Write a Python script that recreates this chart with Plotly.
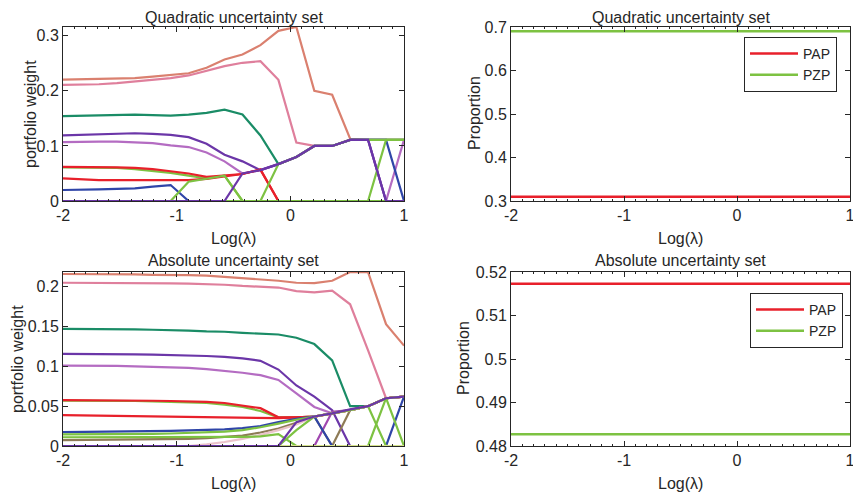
import plotly.graph_objects as go

# ---------------- data ----------------
log_lambda = [-2.0, -1.842, -1.684, -1.526, -1.368, -1.211, -1.053, -0.895, -0.737, -0.579,
              -0.421, -0.263, -0.105, 0.053, 0.211, 0.368, 0.526, 0.684, 0.842, 1.0]

# Quadratic uncertainty set - portfolio weights
q_salmon = [0.2205, 0.221, 0.221, 0.222, 0.223, 0.226, 0.229, 0.232, 0.242, 0.257,
            0.266, 0.283, 0.309, 0.316, 0.200, 0.193, 0.113, 0.111, 0.111, 0.111]
q_pink = [0.211, 0.211, 0.212, 0.214, 0.217, 0.221, 0.223, 0.228, 0.236, 0.245,
          0.251, 0.254, 0.220, 0.106, 0.100, 0.100, 0.111, 0.111, 0.111, 0.111]
q_teal = [0.154, 0.155, 0.156, 0.157, 0.157, 0.156, 0.155, 0.157, 0.160, 0.166,
          0.157, 0.119, 0.067, 0.080, 0.100, 0.100, 0.111, 0.111, 0.111, 0.111]
q_orchid = [0.107, 0.108, 0.108, 0.108, 0.107, 0.105, 0.101, 0.098, 0.088, 0.072,
            0.050, 0.056, 0.067, 0.080, 0.100, 0.100, 0.111, 0.111, 0.0, 0.111]
q_purple1 = [0.119, 0.120, 0.121, 0.122, 0.123, 0.122, 0.120, 0.116, 0.104, 0.084,
             0.072, 0.056, 0.067, 0.080, 0.100, 0.100, 0.111, 0.111, 0.0, 0.0]
q_blue1 = [0.020, 0.020, 0.021, 0.022, 0.023, 0.026, 0.029, 0.0, 0.0, 0.0,
           0.0, 0.0, 0.0, 0.0, 0.0, 0.0, 0.0, 0.0, 0.0, 0.0]
q_blue2 = [None, None, None, None, None, None, None, None, None, None,
           None, None, None, None, None, None, 0.111, 0.111, 0.111, 0.0]
q_green1 = [0.061, 0.061, 0.061, 0.060, 0.058, 0.055, 0.051, 0.046, 0.041, 0.046,
            0.0, 0.0, 0.0, 0.0, 0.0, 0.0, 0.0, 0.0, 0.0, 0.0]
q_red2 = [0.041, 0.039, 0.038, 0.038, 0.038, 0.038, 0.038, 0.038, 0.040, 0.045,
          0.049, 0.057, 0.0, 0.0, 0.0, 0.0, 0.0, 0.0, 0.0, 0.0]
q_red1 = [0.062, 0.062, 0.061, 0.061, 0.060, 0.058, 0.054, 0.050, 0.044, 0.046,
          0.049, 0.057, 0.0, 0.0, 0.0, 0.0, 0.0, 0.0, 0.0, 0.0]
q_green2 = [0.0, 0.0, 0.0, 0.0, 0.0, 0.0, 0.0, 0.035, 0.041, 0.046,
            0.0, 0.0, 0.0, 0.0, 0.0, 0.0, 0.0, 0.0, 0.0, 0.0]
q_green3 = [0.0, 0.0, 0.0, 0.0, 0.0, 0.0, 0.0, 0.0, 0.0, 0.0,
            0.0, 0.0, 0.0, 0.0, 0.0, 0.0, 0.0, 0.0, 0.111, 0.111]
q_green4 = [0.0, 0.0, 0.0, 0.0, 0.0, 0.0, 0.0, 0.0, 0.0, 0.0,
            0.0, 0.0, 0.067, 0.080, 0.100, 0.100, 0.111, 0.111, 0.111, 0.111]
q_purple2 = [0.0, 0.0, 0.0, 0.0, 0.0, 0.0, 0.0, 0.0, 0.0, 0.0,
             0.050, 0.056, 0.067, 0.080, 0.100, 0.100, 0.111, 0.111, 0.0, 0.0]

# Absolute uncertainty set - portfolio weights
a_salmon = [0.216, 0.216, 0.216, 0.2155, 0.2155, 0.215, 0.215, 0.2145, 0.214, 0.2125,
            0.211, 0.209, 0.2075, 0.205, 0.2045, 0.2075, 0.2185, 0.2183, 0.153, 0.126]
a_pink = [0.205, 0.205, 0.205, 0.205, 0.2048, 0.2045, 0.2043, 0.204, 0.2035, 0.2025,
          0.201, 0.200, 0.199, 0.1945, 0.193, 0.195, 0.178, 0.120, 0.060, 0.062]
a_teal = [0.147, 0.147, 0.147, 0.1468, 0.1465, 0.146, 0.1457, 0.145, 0.144, 0.1435,
          0.142, 0.141, 0.140, 0.136, 0.128, 0.1075, 0.050, 0.050, 0.060, 0.062]
a_purple1 = [0.1157, 0.1157, 0.1155, 0.1153, 0.115, 0.1147, 0.1144, 0.1138, 0.113, 0.112,
             0.110, 0.107, 0.096, 0.076, 0.062, 0.045, 0.0, 0.0, 0.0, 0.0]
a_orchid = [0.101, 0.101, 0.1008, 0.1005, 0.1, 0.0995, 0.099, 0.098, 0.0965, 0.0945,
            0.092, 0.089, 0.083, 0.066, 0.049, 0.041, 0.045, 0.050, 0.060, 0.062]
a_magenta = [0.0, 0.0, 0.0, 0.0, 0.0, 0.0, 0.0, 0.0, 0.0, 0.0,
             0.0, 0.0, 0.0, 0.0, 0.0, 0.043, 0.045, 0.050, 0.060, 0.062]
a_green1 = [0.057, 0.057, 0.057, 0.0568, 0.0565, 0.056, 0.0555, 0.055, 0.054, 0.052,
            0.049, 0.044, 0.036, 0.036, 0.037, 0.041, 0.045, 0.050, 0.060, 0.062]
a_red1 = [0.0575, 0.0575, 0.0574, 0.0572, 0.057, 0.0568, 0.0565, 0.056, 0.0553, 0.054,
          0.051, 0.0475, 0.036, 0.036, 0.037, 0.041, 0.045, 0.050, 0.060, 0.062]
a_red2 = [0.0388, 0.0385, 0.038, 0.0375, 0.037, 0.0367, 0.0365, 0.036, 0.0356, 0.0355,
          0.0354, 0.0352, 0.035, 0.036, 0.037, 0.041, 0.045, 0.050, 0.060, 0.062]
a_brown = [0.0075, 0.0076, 0.0077, 0.0078, 0.008, 0.0082, 0.0085, 0.009, 0.0098, 0.011,
           0.013, 0.017, 0.022, 0.029, 0.037, 0.0, 0.045, 0.050, 0.060, 0.062]
a_blue = [0.0175, 0.0176, 0.0178, 0.018, 0.0183, 0.0187, 0.019, 0.0195, 0.020, 0.021,
          0.0225, 0.025, 0.030, 0.034, 0.037, 0.0, 0.0, 0.0, 0.0, 0.062]
a_green2 = [0.0145, 0.0145, 0.0146, 0.0148, 0.015, 0.0153, 0.0157, 0.0163, 0.017, 0.018,
            0.020, 0.0235, 0.028, 0.033, 0.037, 0.041, 0.045, 0.050, 0.0, 0.0]
a_lightpink = [0.0, 0.0, 0.0, 0.0, 0.0, 0.0, 0.0, 0.0, 0.002, 0.005,
               0.009, 0.014, 0.020, 0.027, 0.037, 0.041, 0.045, 0.050, 0.060, 0.062]
a_green3 = [0.011, 0.011, 0.011, 0.011, 0.011, 0.011, 0.011, 0.011, 0.011, 0.011,
            0.0115, 0.012, 0.015, 0.0, 0.0, 0.0, 0.0, 0.0, 0.060, 0.0]
a_green4 = [0.0, 0.0, 0.0, 0.0, 0.0, 0.0, 0.0, 0.0, 0.0, 0.0,
            0.0, 0.0, 0.0, 0.020, 0.037, 0.041, 0.045, 0.050, 0.060, 0.062]
a_paleyellow = [0.0, 0.0, 0.0, 0.0, 0.0, 0.0, 0.0, 0.0, 0.0, 0.0,
                0.0, 0.0, 0.0, 0.0, 0.0, 0.0, 0.0, 0.0, 0.0, 0.0]
a_purple2 = [0.0, 0.0, 0.0, 0.0, 0.0, 0.0, 0.0, 0.0, 0.0, 0.0,
             0.0, 0.0, 0.0, 0.030, 0.037, 0.041, 0.046, 0.050, 0.060, 0.062]

# Proportions
pap_quadratic = 0.31
pzp_quadratic = 0.69
pap_absolute = 0.5173
pzp_absolute = 0.4827

# ---------------- colours ----------------
C = dict(salmon="#DA806F", pink="#DF7F9C", teal="#1A8C66", purple="#6B36A8",
         orchid="#B46CC2", magenta="#A047B0", red="#E8202B", green="#7DC242",
         blue="#2F45A8", brown="#8E7B56", lightpink="#EBC3CB", paleyellow="#D5E28C")

TXT = "#262626"
FONT = "Liberation Sans, Arial, sans-serif"
FS = 16

fig = go.Figure()


def add(y, color, xa, ya, name=None, legend=None, width=2.2):
    fig.add_trace(go.Scatter(
        x=log_lambda, y=y, mode="lines", line=dict(color=color, width=width),
        xaxis=xa, yaxis=ya, showlegend=legend is not None, name=name,
        legend=legend if legend else "legend", hoverinfo="skip"))


# top-left
for y, c in [(q_salmon, "salmon"), (q_pink, "pink"), (q_teal, "teal"), (q_orchid, "orchid"),
             (q_purple1, "purple"), (q_blue1, "blue"), (q_blue2, "blue"), (q_green1, "green"),
             (q_red2, "red"), (q_red1, "red"), (q_green2, "green"), (q_green3, "green"),
             (q_green4, "green"), (q_purple2, "purple")]:
    add(y, C[c], "x", "y")

# bottom-left
for y, c in [(a_salmon, "salmon"), (a_pink, "pink"), (a_teal, "teal"), (a_purple1, "purple"),
             (a_orchid, "orchid"), (a_magenta, "magenta"), (a_green1, "green"), (a_red1, "red"),
             (a_red2, "red"), (a_brown, "brown"), (a_blue, "blue"), (a_green2, "green"),
             (a_lightpink, "lightpink"), (a_green3, "green"), (a_green4, "green"),
             (a_paleyellow, "paleyellow"), (a_purple2, "purple")]:
    add(y, C[c], "x3", "y3")

# right panels
n = len(log_lambda)
add([pap_quadratic] * n, C["red"], "x2", "y2", name="PAP", legend="legend", width=2.5)
add([pzp_quadratic] * n, C["green"], "x2", "y2", name="PZP", legend="legend", width=2.5)
add([pap_absolute] * n, C["red"], "x4", "y4", name="PAP", legend="legend2", width=2.5)
add([pzp_absolute] * n, C["green"], "x4", "y4", name="PZP", legend="legend2", width=2.5)

# page has an 8px body margin; figure fills the rest of the 861x493 window
OFF = 8
W, H = 861 - OFF, 493 - OFF


def fx(px):
    return (px - OFF) / W


def fy(py):
    return (H - (py - OFF)) / H


xl = [fx(63), fx(404)]
xr = [fx(511), fx(850)]
yt = [fy(201), fy(27)]
yb = [fy(446), fy(272)]

tickfont = dict(size=FS, color=TXT, family=FONT)
xcommon = dict(range=[-2, 1], tickvals=[-2, -1, 0, 1], ticktext=["-2", "-1", "0", "1"],
               ticks="inside", ticklen=5, tickcolor=TXT, showline=True, linecolor=TXT,
               linewidth=1, mirror="allticks", showgrid=False, zeroline=False,
               tickfont=tickfont, automargin=False,
               minor=dict(dtick=0.1, tick0=0, ticks="inside", ticklen=2, tickcolor=TXT))
ycommon = dict(ticks="inside", ticklen=5, tickcolor=TXT, showline=True, linecolor=TXT,
               linewidth=1, mirror="allticks", showgrid=False, zeroline=False,
               tickfont=tickfont, automargin=False)

legend_common = dict(xanchor="right", yanchor="top", bgcolor="white", bordercolor=TXT,
                     borderwidth=1, font=dict(size=14, color=TXT, family=FONT),
                     tracegroupgap=0, itemwidth=48)

fig.update_layout(
    width=W, height=H, margin=dict(l=0, r=0, t=0, b=0, autoexpand=False),
    paper_bgcolor="white", plot_bgcolor="white",
    font=dict(family=FONT, color=TXT, size=FS),
    xaxis=dict(domain=xl, anchor="y", **xcommon),
    yaxis=dict(domain=yt, anchor="x", range=[0, 0.316], tickvals=[0, 0.1, 0.2, 0.3],
               ticktext=["0", "0.1", "0.2", "0.3"], **ycommon),
    xaxis2=dict(domain=xr, anchor="y2", **xcommon),
    yaxis2=dict(domain=yt, anchor="x2", range=[0.3, 0.7], tickvals=[0.3, 0.4, 0.5, 0.6, 0.7],
                ticktext=["0.3", "0.4", "0.5", "0.6", "0.7"], **ycommon),
    xaxis3=dict(domain=xl, anchor="y3", **xcommon),
    yaxis3=dict(domain=yb, anchor="x3", range=[0, 0.2185],
                tickvals=[0, 0.05, 0.1, 0.15, 0.2], ticktext=["0", "0.05", "0.1", "0.15", "0.2"],
                **ycommon),
    xaxis4=dict(domain=xr, anchor="y4", **xcommon),
    yaxis4=dict(domain=yb, anchor="x4", range=[0.48, 0.52],
                tickvals=[0.48, 0.49, 0.5, 0.51, 0.52], ticktext=["0.48", "0.49", "0.5", "0.51", "0.52"],
                **ycommon),
    legend=dict(x=fx(837), y=fy(37), **legend_common),
    legend2=dict(x=fx(843), y=fy(293), **legend_common),
)

titles = [("Quadratic uncertainty set", (xl[0] + xl[1]) / 2, fy(17), 0),
          ("Quadratic uncertainty set", (xr[0] + xr[1]) / 2, fy(17), 0),
          ("Absolute uncertainty set", (xl[0] + xl[1]) / 2, fy(261), 0),
          ("Absolute uncertainty set", (xr[0] + xr[1]) / 2, fy(261), 0),
          ("Log(λ)", (xl[0] + xl[1]) / 2, fy(238), 0),
          ("Log(λ)", (xr[0] + xr[1]) / 2, fy(238), 0),
          ("Log(λ)", (xl[0] + xl[1]) / 2, fy(483), 0),
          ("Log(λ)", (xr[0] + xr[1]) / 2, fy(483), 0),
          ("portfolio weight", fx(30), fy(114), -90),
          ("portfolio weight", fx(17), fy(359), -90),
          ("Proportion", fx(474), fy(113), -90),
          ("Proportion", fx(463), fy(358), -90)]
for text, x, y, ang in titles:
    fig.add_annotation(text=text, x=x, y=y, xref="paper", yref="paper", showarrow=False,
                       xanchor="center", yanchor="middle", textangle=ang,
                       font=dict(size=FS, color=TXT, family=FONT))

fig.write_html("out.html")
